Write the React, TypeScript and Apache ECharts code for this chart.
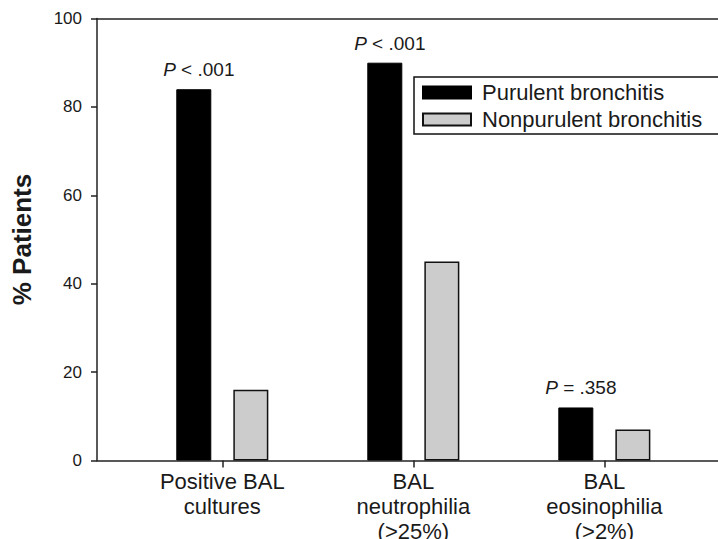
import React, { useEffect, useRef } from "react";
import * as echarts from "echarts";

const categories = [
  "Positive BAL\ncultures",
  "BAL\nneutrophilia\n(>25%)",
  "BAL\neosinophilia\n(>2%)",
];
const seriesNames = ["Purulent bronchitis", "Nonpurulent bronchitis"];
const purulent = [84, 90, 12];
const nonpurulent = [16, 45, 7];
const pLabels = ["{p|P} < .001", "{p|P} < .001", "{p|P} = .358"];
const yTicks = { min: 0, max: 100, interval: 20 };

const TEXT = "#1a1a1a";
const FONT = "'Liberation Sans', Arial, sans-serif";

export default function App() {
  const ref = useRef<HTMLDivElement>(null);
  useEffect(() => {
    if (!ref.current) return;
    const chart = echarts.init(ref.current, undefined, { renderer: "svg" });
    const positions = categories.map((_, i) => i + 1);
    const xMin = 0.344;
    const xMax = 3.595;
    chart.setOption({
      animation: false,
      backgroundColor: "#ffffff",
      textStyle: { fontFamily: FONT, color: TEXT },
      grid: {
        left: 97,
        right: 0,
        top: 18.5,
        bottom: 78.5,
        containLabel: false,
        outerBoundsMode: "none",
      },
      legend: {
        data: seriesNames,
        orient: "vertical",
        left: 414,
        top: 77,
        itemWidth: 48,
        itemHeight: 12,
        itemGap: 0,
        icon: "rect",
        padding: [2, 40, 1, 8],
        borderColor: "#111",
        borderWidth: 1.5,
        backgroundColor: "#fff",
        textStyle: {
          fontFamily: FONT,
          fontSize: 22,
          lineHeight: 27,
          color: TEXT,
          padding: [0, 0, 0, 6],
        },
      },
      xAxis: [
        {
          type: "value",
          min: xMin,
          max: xMax,
          position: "bottom",
          axisLine: { show: true, lineStyle: { color: "#222", width: 1.5 } },
          axisTick: {
            show: true,
            length: 7,
            lineStyle: { color: "#222", width: 1.5 },
            customValues: positions,
          },
          axisLabel: {
            customValues: positions,
            formatter: (v: number) => categories[Math.round(v) - 1] ?? "",
            fontFamily: FONT,
            fontSize: 22,
            lineHeight: 25,
            color: TEXT,
            margin: 8,
            align: "center",
          },
          splitLine: { show: false },
        },
        {
          type: "value",
          min: xMin,
          max: xMax,
          position: "top",
          axisLine: { show: true, onZero: false, lineStyle: { color: "#222", width: 1.5 } },
          axisTick: { show: false },
          axisLabel: { show: false },
          splitLine: { show: false },
        },
      ],
      yAxis: {
        type: "value",
        min: yTicks.min,
        max: yTicks.max,
        interval: yTicks.interval,
        name: "% Patients",
        nameLocation: "middle",
        nameGap: 62,
        nameRotate: 90,
        nameTextStyle: {
          fontFamily: FONT,
          fontSize: 26,
          fontWeight: "bold",
          color: TEXT,
        },
        axisLine: { show: true, lineStyle: { color: "#222", width: 1.5 } },
        axisTick: { show: true, length: 6, lineStyle: { color: "#222", width: 1.5 } },
        axisLabel: { fontFamily: FONT, fontSize: 17, color: TEXT, margin: 15 },
        splitLine: { show: false },
      },
      series: [
        {
          name: seriesNames[0],
          type: "bar",
          barWidth: 35,
          barGap: "63%",
          data: purulent.map((v, i) => [positions[i], v]),
          itemStyle: { color: "#000000", borderColor: "#000", borderWidth: 1 },
          label: {
            show: true,
            position: "top",
            distance: 10,
            offset: [5, 0],
            formatter: (p: any) => pLabels[p.dataIndex],
            fontFamily: FONT,
            fontSize: 19,
            color: TEXT,
            rich: {
              p: { fontStyle: "italic", fontFamily: FONT, fontSize: 19, color: TEXT },
            },
          },
        },
        {
          name: seriesNames[1],
          type: "bar",
          barWidth: 35,
          barGap: "63%",
          data: nonpurulent.map((v, i) => [positions[i], v]),
          itemStyle: { color: "#cccccc", borderColor: "#111", borderWidth: 1.5 },
        },
      ],
    });
    return () => chart.dispose();
  }, []);
  return <div ref={ref} style={{ width: 718, height: 539, position: "absolute", left: 0, top: 0 }} />;
}
